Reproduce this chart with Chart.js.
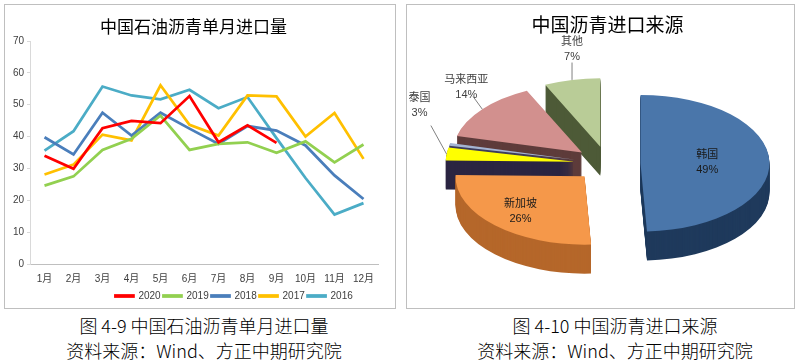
<!DOCTYPE html>
<html>
<head>
<meta charset="utf-8">
<script src="https://cdn.jsdelivr.net/npm/chart.js@4.4.1/dist/chart.umd.min.js"></script>
<style>
  body { margin: 0; width: 802px; height: 362px; background: #fff; position: relative; overflow: hidden; }
  .panel { position: absolute; top: 4px; height: 305px; border: 1px solid #bfbfbf; box-sizing: border-box; }
  .cap { position: absolute; top: 313px; width: 360px; text-align: center; font: 300 18px 'Noto Sans CJK SC', sans-serif; line-height: 25px; color: #000; }
</style>
</head>
<body>
<div class="panel" style="left:4px;width:392px;"><canvas id="lineChart" width="390" height="303"></canvas></div>
<div class="panel" style="left:406px;width:389px;"><canvas id="pieChart" width="387" height="303"></canvas></div>
<div class="cap" style="left:24px;">图 4-9 中国石油沥青单月进口量<br>资料来源：Wind、方正中期研究院</div>
<div class="cap" style="left:435px;">图 4-10 中国沥青进口来源<br>资料来源：Wind、方正中期研究院</div>
<script>
// monthly imports, 10k tonnes
const months = ['1月', '2月', '3月', '4月', '5月', '6月', '7月', '8月', '9月', '10月', '11月', '12月'];
const y2020 = [34.0, 29.9, 42.6, 44.9, 44.2, 52.7, 38.2, 43.5, 38.0];
const y2019 = [24.6, 27.5, 35.8, 39.3, 46.6, 35.8, 37.7, 38.2, 34.9, 38.5, 31.9, 37.5];
const y2018 = [39.8, 34.4, 47.5, 40.3, 47.5, 42.5, 37.7, 43.3, 41.9, 37.2, 27.8, 20.4];
const y2017 = [28.1, 31.2, 40.6, 38.8, 56.1, 43.7, 40.3, 52.9, 52.6, 40.0, 47.4, 33.0];
const y2016 = [35.6, 41.7, 55.7, 52.9, 51.7, 54.7, 48.9, 52.4, 39.5, 27.0, 15.5, 19.1];

// import sources (share, %)
const sources = ['韩国', '新加坡', '泰国', '', '马来西亚', '其他'];
const shares = [49, 26, 3, 0.6, 14, 7];

const FONT = "'Liberation Sans', 'Noto Sans CJK SC', sans-serif";
const CJK = "'Noto Sans CJK SC', sans-serif";

function lineSet(label, data, color) {
  return {
    label: label,
    data: data,
    borderColor: color,
    backgroundColor: color,
    borderWidth: 2.75,
    pointRadius: 0,
    tension: 0
  };
}

// move the legend a bit, like the original
const legendShift = {
  id: 'legendShift',
  afterLayout(chart, args, opts) {
    chart.legend.left += opts.dx;
    chart.legend.right += opts.dx;
    chart.legend.top += opts.dy;
    chart.legend.bottom += opts.dy;
  }
};

new Chart(document.getElementById('lineChart').getContext('2d'), {
  type: 'line',
  data: {
    labels: months,
    datasets: [
      lineSet('2020', y2020, '#ff0000'),
      lineSet('2019', y2019, '#92d050'),
      lineSet('2018', y2018, '#4a7ebb'),
      lineSet('2017', y2017, '#ffc000'),
      lineSet('2016', y2016, '#4bacc6')
    ]
  },
  options: {
    responsive: false,
    animation: false,
    layout: { padding: { left: 4, right: 17, top: 1.6, bottom: 0 } },
    plugins: {
      title: {
        display: true,
        text: '中国石油沥青单月进口量',
        font: { family: CJK, size: 17, weight: 'normal' },
        color: '#000',
        padding: { top: 10, bottom: 4 }
      },
      legend: {
        position: 'bottom',
        labels: {
          boxWidth: 18,
          boxHeight: 1,
          padding: 0,
          color: '#404040',
          font: { family: FONT, size: 10 },
          // trailing space keeps a small gap before the next item
          generateLabels(chart) {
            return Chart.defaults.plugins.legend.labels.generateLabels(chart).map(l => Object.assign(l, { text: l.text + ' ' }));
          }
        }
      },
      tooltip: { enabled: false },
      legendShift: { dx: 42, dy: 3 }
    },
    scales: {
      x: {
        offset: true,
        grid: { display: false, drawTicks: false },
        border: { color: '#bfbfbf' },
        ticks: { color: '#404040', font: { family: FONT, size: 10 }, padding: 9, maxRotation: 0, autoSkip: false },
        afterFit(scale) { scale.height -= 6; }
      },
      y: {
        min: 0,
        max: 70,
        ticks: { stepSize: 10, color: '#404040', font: { family: FONT, size: 10 }, padding: 3 },
        grid: { drawOnChartArea: false, tickLength: 3, color: '#d9d9d9' },
        border: { color: '#d9d9d9' },
        afterFit(scale) { scale.width = 21; }
      }
    }
  },
  plugins: [legendShift]
});

// fake 3D exploded pie: tilt the drawing, stack darker copies under each slice
function midAngle(arc) { return (arc.startAngle + arc.endAngle) / 2; }

const pie3d = {
  id: 'pie3d',
  beforeDatasetsDraw(chart, args, o) {
    const ctx = chart.ctx;
    const arcs = chart.getDatasetMeta(0).data;
    const cx = arcs[0].x, cy = arcs[0].y, R = arcs[0].outerRadius;
    const order = arcs.map((a, i) => i).sort((i, j) => Math.sin(midAngle(arcs[i])) - Math.sin(midAngle(arcs[j])));

    ctx.save();
    ctx.translate(cx, cy);
    ctx.scale(1, o.tilt);
    ctx.translate(-cx, -cy);
    order.forEach(i => {
      const arc = arcs[i];
      const m = midAngle(arc);
      const topColor = arc.options.backgroundColor;
      ctx.save();
      ctx.translate(Math.cos(m) * o.explode, Math.sin(m) * o.explode);
      arc.options.backgroundColor = o.sideColors[i];
      for (let k = o.depth; k > 0; k--) {
        ctx.save();
        ctx.translate(0, k / o.tilt);
        arc.draw(ctx);
        ctx.restore();
      }
      arc.options.backgroundColor = topColor;
      arc.draw(ctx);
      ctx.restore();
    });
    ctx.restore();

    // data labels
    const data = chart.data.datasets[0].data;
    const total = data.reduce((s, v) => s + v, 0);
    ctx.save();
    ctx.font = '11px ' + FONT;
    ctx.textAlign = 'center';
    ctx.textBaseline = 'middle';
    arcs.forEach((arc, i) => {
      const name = chart.data.labels[i];
      if (!name) return;
      const pct = Math.round(data[i] / total * 100) + '%';
      const m = midAngle(arc);
      const ax = cx + Math.cos(m) * o.explode;
      const ay = cy + Math.sin(m) * o.explode * o.tilt;
      let x, y;
      if (o.labelShift[i]) {
        const ex = ax + Math.cos(m) * R;
        const ey = ay + Math.sin(m) * R * o.tilt;
        x = ex + o.labelShift[i][0];
        y = ey + o.labelShift[i][1];
        ctx.strokeStyle = '#808080';
        ctx.lineWidth = 1;
        ctx.beginPath();
        ctx.moveTo(ex, ey);
        ctx.lineTo(x + (ex - x) * 0.42, y + (ey - y) * 0.42);
        ctx.stroke();
        ctx.fillStyle = '#404040';
      } else {
        const al = arc.endAngle - arc.startAngle;
        const d = 1.2 * 4 * R * Math.sin(al / 2) / (3 * al);
        x = ax + Math.cos(m) * d;
        y = ay + Math.sin(m) * d * o.tilt;
        ctx.fillStyle = '#1a1a1a';
      }
      ctx.fillText(name, x, y - 7.5);
      ctx.fillText(pct, x, y + 7.5);
    });
    ctx.restore();
    return false;
  }
};

new Chart(document.getElementById('pieChart').getContext('2d'), {
  type: 'pie',
  data: {
    labels: sources,
    datasets: [{
      data: shares,
      backgroundColor: ['#4a76aa', '#f5984a', '#ffff00', '#a4b4d2', '#d2908e', '#b9cc97'],
      borderWidth: 0
    }]
  },
  options: {
    responsive: false,
    animation: false,
    radius: 129,
    layout: { padding: { left: 14, right: 0, top: 0, bottom: 17 } },
    plugins: {
      title: {
        display: true,
        text: '中国沥青进口来源',
        font: { family: CJK, size: 19, weight: 'normal' },
        color: '#000',
        padding: { top: 8.6, bottom: 0 }
      },
      legend: { display: false },
      tooltip: { enabled: false },
      pie3d: {
        tilt: 0.53,
        depth: 29,
        explode: 33,
        sideColors: ['#1f3a5c', '#b5672a', '#2b2542', '#3c3c5c', '#5e3c3b', '#4d5a37'],
        labelShift: [null, null, [-27, -49], null, [-16, -22], [0, -30]]
      }
    }
  },
  plugins: [pie3d]
});
</script>
</body>
</html>
